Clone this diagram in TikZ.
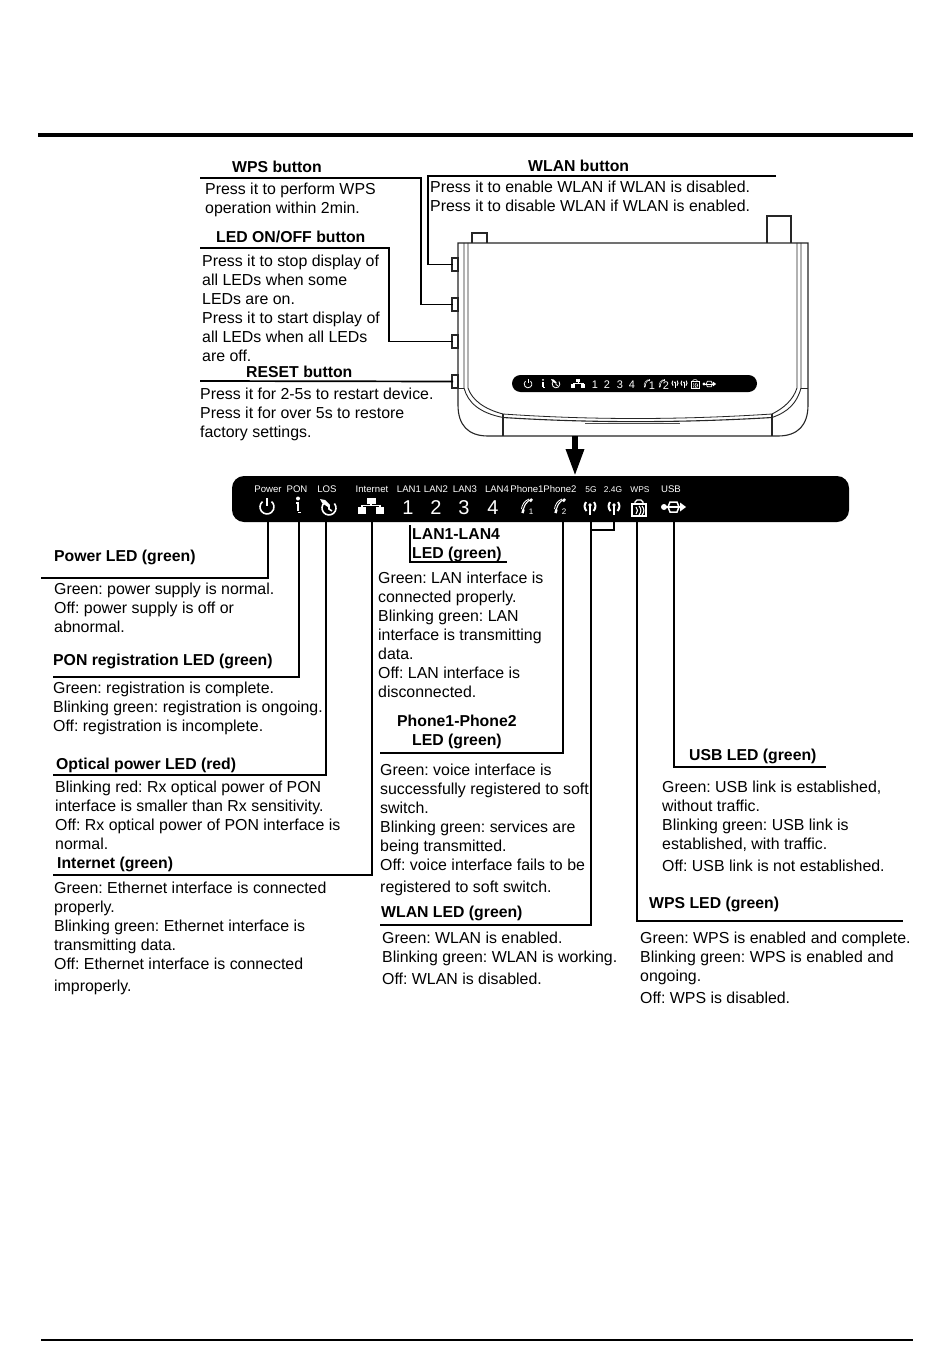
\documentclass[tikz,border=0pt]{standalone}
\usepackage{fontspec}
\setmainfont{Liberation Sans}
\usetikzlibrary{arrows.meta}
\frenchspacing
\newcommand{\firstline}{\rule{0pt}{12pt}}
\newcommand{\lwf}{1}
\newcommand{\tb}[4]{\node[txt] (#1) at (#2,#3) {\firstline #4};}
\newcommand{\hb}[4]{\node[txt,font=\fontsize{15.8}{19}\selectfont\bfseries] (#1) at (#2,#3) {\firstline #4};}
\tikzset{
  x=1pt,y=-1pt,
  txt/.style={anchor=north west,inner sep=0pt,align=left,yshift=7pt,font=\fontsize{15.9}{19}\selectfont},
  leader/.style={line width=1.7pt,black},
  iconline/.style={white,line width=\lwf*1.6pt},
  barlabel/.style={text=white,inner sep=0pt,font=\fontsize{9.6}{10}\selectfont},
  barlabelsm/.style={text=white,inner sep=0pt,font=\fontsize{8.4}{10}\selectfont},
  ledpanel/.style={fill=black,rounded corners=#1,inner sep=0pt},
  outline/.style={line width=1.1pt,black!85},
  pics/powericon/.style={code={
    \draw[iconline] (-4.5,-5.4) arc[start angle=130,end angle=410,radius=7pt];
    \draw[iconline] (0,-9)--(0,-1);}},
  pics/infoicon/.style={code={
    \fill[white] (0,-7.5) circle[radius=2pt];
    \draw[white,line width=\lwf*2.6pt] (-2,-3)--(0,-3)--(0,5);
    \draw[white,line width=\lwf*1.6pt] (0,6.5)--(3,6.5);}},
  pics/losicon/.style={code={
    \draw[iconline] (-4.5,-5.4) arc[start angle=130,end angle=400,radius=7pt];
    \draw[iconline] (0,-3)--(0,1)--(3,3);
    \fill[white] (-9,-9)--(-4,-8)--(1,-3)--(-1,-1)--(-7,-5)--cycle;}},
  pics/neticon/.style={code={
    \fill[white] (-4.5,-9) rectangle (4.5,-3);
    \fill[white] (-13,0) rectangle (-5,7);
    \fill[white] (5,0) rectangle (13,7);
    \draw[white,line width=\lwf*1.2pt] (0,-3)--(0,-1.5)--(-9,-1.5)--(-9,0) (0,-1.5)--(9,-1.5)--(9,0);}},
  pics/phoneicon/.style={code={
    \draw[white,line width=\lwf*1.1pt] (5,-8) .. controls (-1,-6) and (-4,0) .. (-4,6);
    \draw[white,line width=\lwf*2.4pt] (5,-8) -- (3,-5.5);
    \draw[white,line width=\lwf*2.4pt] (-4.5,6) -- (-3.5,2.5);
    \draw[white,line width=\lwf*.8pt] (2,-8) .. controls (-3,-6) and (-5,-2) .. (-5.5,2);}},
  pics/anticon/.style={code={
    \draw[white,line width=\lwf*1.7pt] (0,-2)--(0,7);
    \fill[white] (0,-3) circle[radius=1.8pt];
    \draw[white,line width=\lwf*2pt] (-4,-6) .. controls (-6,-3) and (-6,0) .. (-3.5,3);
    \draw[white,line width=\lwf*2pt] (4,-6) .. controls (6,-3) and (6,0) .. (3.5,3);}},
  pics/wpsicon/.style={code={
    \draw[white,line width=\lwf*1.3pt] (-7,-4) rectangle (7,8);
    \draw[white,line width=\lwf*1.3pt] (-4,-4)--(-4,-6)--(-2,-8)--(2,-8)--(4,-6)--(4,-4);
    \draw[white,line width=\lwf*1.1pt] (-3,-1) .. controls (-1,1) and (-1,4) .. (-3,6);
    \draw[white,line width=\lwf*1.1pt] (0,-2) .. controls (2.5,1) and (2.5,4) .. (0,7);
    \draw[white,line width=\lwf*1.1pt] (3,-2) .. controls (5.5,1) and (5.5,4) .. (3,7);}},
  pics/usbicon/.style={code={
    \fill[white] (-9,0) circle[radius=3pt];
    \draw[white,line width=\lwf*1.8pt] (-9,0)--(7,0);
    \draw[white,line width=\lwf*1.5pt] (-5,0)--(-3,-5)--(4,-5)--(6,0);
    \draw[white,line width=\lwf*1.5pt] (-5,0)--(-3,5)--(4,5)--(6,0);
    \fill[white] (7,-4.5)--(13,0)--(7,4.5)--cycle;}},
}
\begin{document}
\begin{tikzpicture}
\useasboundingbox (0,0) rectangle (950,1372);
\fill[white] (0,0) rectangle (950,1372);

% page rules
\coordinate (rtL) at (38,135); \coordinate (rtR) at (913,135);
\coordinate (rbL) at (41,1340); \coordinate (rbR) at (913,1340);
\draw[line width=4.2pt] (rtL)--(rtR);
\draw[line width=1.5pt] (rbL)--(rbR);

% ---------- router ----------
\draw[outline,fill=white] (472,243)--(472,233)--(487,233)--(487,243);
\draw[outline,fill=white] (767,243)--(767,216)--(791,216)--(791,243);
\draw[outline] (458,243)--(808,243)--(808,405) .. controls (808,425) and (798,436) .. (778,436)
  --(488,436) .. controls (468,436) and (458,425) .. (458,405)--cycle;
\draw[outline,line width=.9pt] (464,243)--(464,388) .. controls (468,403) and (480,413) .. (503,417.5);
\draw[outline,line width=.9pt] (468,243)--(468,388) .. controls (472,400) and (484,409) .. (503,414);
\draw[outline,line width=.9pt] (801,243)--(801,388) .. controls (797,403) and (788,412) .. (772,417.5);
\draw[outline,line width=.9pt] (797,243)--(797,388) .. controls (793,400) and (784,408) .. (772,414);
\draw[outline,line width=.9pt] (458,388)--(464,388) (801,388)--(808,388);
\draw[outline] (503,417.5) .. controls (590,423) and (680,423) .. (772,417.5);
\draw[outline,line width=.8pt] (503,414) .. controls (590,420) and (680,420) .. (772,414);
\draw[outline] (503,414)--(503,436) (772,414)--(772,436);
\draw[black!70,line width=1.3pt] (585,423.5)--(680,423.5);
\foreach \n/\y in {a/258,b/298,c/335,d/375}{
  \draw[outline,fill=white] (452,\y) rectangle (458,\y+13);
  \coordinate (btn\n) at (453,\y+6.5);
}
% small LED strip
\node[ledpanel=8.5pt,minimum width=245pt,minimum height=17pt] (strip) at (634.5,383.5) {};
\begin{scope}[every pic/.append style={scale=.55}]
  \renewcommand{\lwf}{.5}
  \pic at (528,384) {powericon};
  \pic at (543,384) {infoicon};
  \pic at (556,384) {losicon};
  \pic at (578,384) {neticon};
  \pic at (647,384) {phoneicon};
  \pic at (662,384) {phoneicon};
  \pic at (675,384) {anticon};
  \pic at (684,384) {anticon};
  \pic at (695,384) {wpsicon};
  \pic at (709,384) {usbicon};
\end{scope}
\foreach \t/\x in {1/595,2/607,3/620,4/632}{
  \node[text=white,inner sep=0pt,font=\fontsize{11}{12}\selectfont] (sd\t) at (\x,384.5) {\t};
}
\node[text=white,inner sep=0pt,font=\fontsize{11}{12}\selectfont] (ss1) at (652,386) {1};
\node[text=white,inner sep=0pt,font=\fontsize{11}{12}\selectfont] (ss2) at (666,386) {2};

% arrow
\coordinate (arrS) at (575,436); \coordinate (arrE) at (575,476);
\draw[line width=6pt,-{Triangle[width=17pt,length=27pt]}] (arrS)--(arrE);

% ---------- main LED bar ----------
\node[ledpanel=12pt,minimum width=617pt,minimum height=46pt] (bar) at (540.5,499) {};
\foreach \t/\x in {Power/268,PON/297,LOS/327,Internet/372,LAN1/409,LAN2/436,LAN3/465,LAN4/497,USB/671}{
  \node[barlabel] (l\t) at (\x,489.5) {\t};
}
\foreach \t/\x in {5G/591,2.4G/613,WPS/640}{
  \node[barlabelsm] (l\t) at (\x,489.5) {\t};
}
\node[barlabel] (lPh1) at (527,489.5) {Phone1};
\node[barlabel] (lPh2) at (560,489.5) {Phone2};
\pic at (267,507) {powericon};
\pic at (298,506) {infoicon};
\pic at (329,508) {losicon};
\pic at (371,507) {neticon};
\pic at (527,507) {phoneicon};
\pic at (560,507) {phoneicon};
\pic at (590,508) {anticon};
\pic at (614,508) {anticon};
\pic at (639,508) {wpsicon};
\pic at (673,507) {usbicon};
\foreach \t/\x in {1/408,2/436,3/464,4/493}{
  \node[text=white,inner sep=0pt,font=\fontsize{20}{22}\selectfont] (bd\t) at (\x,508) {\t};
}
\node[text=white,inner sep=0pt,font=\fontsize{8}{9}\selectfont] (bs1) at (531,512) {1};
\node[text=white,inner sep=0pt,font=\fontsize{8}{9}\selectfont] (bs2) at (564,512) {2};

% ---------- button leaders ----------
\coordinate (wpsL) at (200,178); \coordinate (wpsC) at (421,178);
\coordinate (wlanR) at (776,176); \coordinate (wlanC) at (428,176);
\coordinate (ledL) at (200,248); \coordinate (ledC) at (389,248);
\coordinate (rstL) at (200,381);
\draw[leader] (wpsL)--(wpsC)|-(btnb);
\draw[leader] (wlanR)--(wlanC)|-(btna);
\draw[leader] (ledL)--(ledC)|-(btnc);
\draw[leader] (rstL)--(btnd);

% ---------- LED leaders ----------
\foreach \n/\x/\y/\e in {pw/268/578/41,po/299/677/53,lo/326/775/53,in/372/875/53,ph/563/753/380,wl/591/925/380,wp/637/921/903,us/674/767/826}{
  \coordinate (\n T) at (\x,522); \coordinate (\n E) at (\e,\y);
  \draw[leader] (\n T)|-(\n E);
}
\coordinate (ant5) at (591,522); \coordinate (ant24) at (614,522); \coordinate (antJ) at (591,530);
\draw[leader] (ant24)|-(antJ);
\coordinate (lanT) at (410,525); \coordinate (lanE) at (507,562);
\draw[leader] (lanT)|-(lanE);

% ---------- button text ----------
\hb{hWPS}{232}{167}{WPS button}
\tb{tWPS}{205}{189}{Press it to perform WPS\\operation within 2min.}
\hb{hWLAN}{528}{166}{WLAN button}
\tb{tWLAN}{430}{187}{Press it to enable WLAN if WLAN is disabled.\\Press it to disable WLAN if WLAN is enabled.}
\hb{hLED}{216}{237}{LED ON/OFF button}
\tb{tLED}{202}{261}{Press it to stop display of\\all LEDs when some\\LEDs are on.\\Press it to start display of\\all LEDs when all LEDs\\are off.}
\hb{hRST}{246}{372}{RESET button}
\tb{tRST}{200}{394}{Press it for 2-5s to restart device.\\Press it for over 5s to restore\\factory settings.}

% ---------- LED text ----------
\hb{hPw}{54}{556}{Power LED (green)}
\tb{tPw}{54}{589}{Green: power supply is normal.\\Off: power supply is off or\\abnormal.}
\hb{hPo}{53}{660}{PON registration LED (green)}
\tb{tPo}{53}{688}{Green: registration is complete.\\Blinking green: registration is ongoing.\\Off: registration is incomplete.}
\hb{hLo}{56}{764}{Optical power LED (red)}
\tb{tLo}{55}{787}{Blinking red: Rx optical power of PON\\interface is smaller than Rx sensitivity.\\Off: Rx optical power of PON interface is\\normal.}
\hb{hIn}{57}{863}{Internet (green)}
\tb{tIn}{54}{888}{Green: Ethernet interface is connected\\properly.\\Blinking green: Ethernet interface is\\transmitting data.\\Off: Ethernet interface is connected\\[3pt]improperly.}
\hb{hLan}{412}{534}{LAN1-LAN4\\LED (green)}
\tb{tLan}{378}{578}{Green: LAN interface is\\connected properly.\\Blinking green: LAN\\interface is transmitting\\data.\\Off: LAN interface is\\disconnected.}
\hb{hPh}{397}{721}{Phone1-Phone2\\\hspace*{15pt}LED (green)}
\tb{tPh}{380}{770}{Green: voice interface is\\successfully registered to soft\\switch.\\Blinking green: services are\\being transmitted.\\Off: voice interface fails to be\\[3pt]registered to soft switch.}
\hb{hWl}{381}{912}{WLAN LED (green)}
\tb{tWl}{382}{938}{Green: WLAN is enabled.\\Blinking green: WLAN is working.\\[3pt]Off: WLAN is disabled.}
\hb{hUs}{689}{755}{USB LED (green)}
\tb{tUs}{662}{787}{Green: USB link is established,\\without traffic.\\Blinking green: USB link is\\established, with traffic.\\[3pt]Off: USB link is not established.}
\hb{hWp}{649}{903}{WPS LED (green)}
\tb{tWp}{640}{938}{Green: WPS is enabled and complete.\\Blinking green: WPS is enabled and\\ongoing.\\[3pt]Off: WPS is disabled.}
\end{tikzpicture}
\end{document}
